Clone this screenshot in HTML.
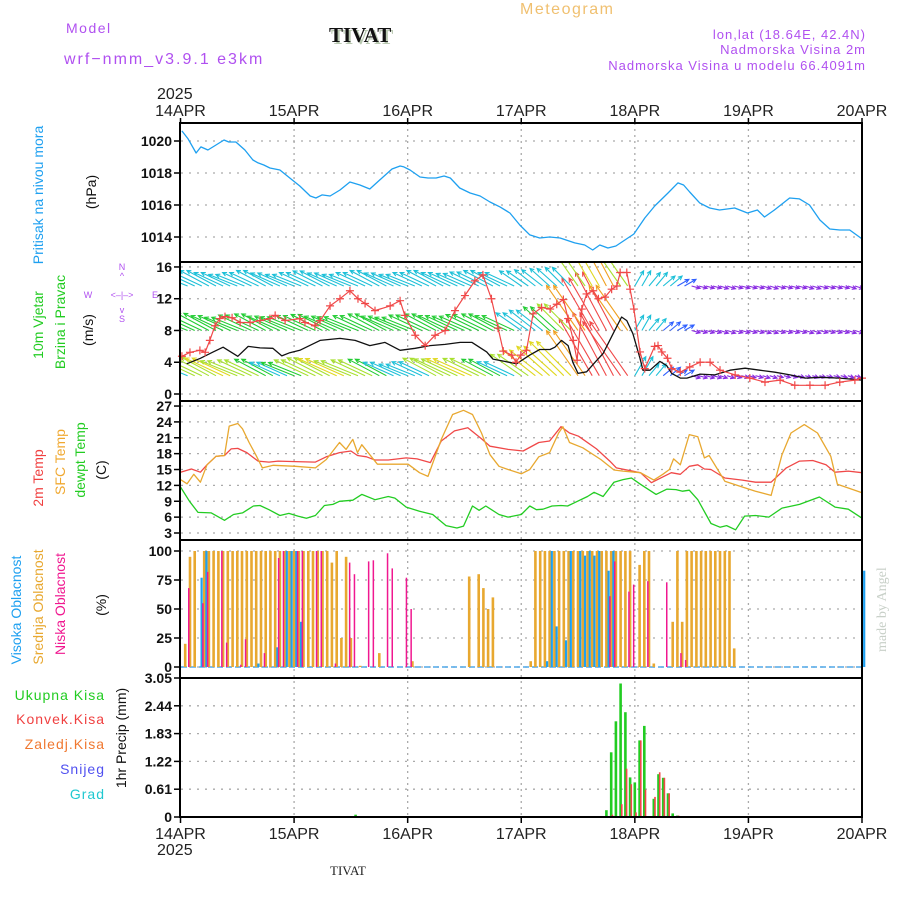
<!DOCTYPE html>
<html><head><meta charset="utf-8"><style>
html,body{margin:0;padding:0;background:#fff}
svg{display:block}
text{font-family:"Liberation Sans",sans-serif}
text.serif{font-family:"Liberation Serif",serif}
</style></head><body>
<svg id="chart" xmlns="http://www.w3.org/2000/svg" width="900" height="900" viewBox="0 0 900 900">
<defs>
<clipPath id="windclip"><rect x="181" y="263" width="680" height="137"/></clipPath>
</defs>
<g>
<text x="66" y="33" fill="#b050f0" font-size="14" letter-spacing="1.5">Model</text>
<text x="64" y="64" fill="#b050f0" font-size="16" letter-spacing="2">wrf−nmm_v3.9.1 e3km</text>
<text class="serif" x="331" y="44" fill="#b8c8b0" font-size="21" font-weight="bold">TIVAT</text>
<text class="serif" x="329" y="42" fill="#111" font-size="21" font-weight="bold">TIVAT</text>
<text x="520" y="14" fill="#f0c070" font-size="16" letter-spacing="1.5">Meteogram</text>
<text x="866" y="39" text-anchor="end" fill="#b050f0" font-size="13" letter-spacing="1">lon,lat (18.64E, 42.4N)</text>
<text x="866" y="54" text-anchor="end" fill="#b050f0" font-size="13" letter-spacing="1">Nadmorska Visina 2m</text>
<text x="866" y="70" text-anchor="end" fill="#b050f0" font-size="13" letter-spacing="1">Nadmorska Visina u modelu 66.4091m</text>
<text x="157" y="99" fill="#222" font-size="16">2025</text>
<text x="157" y="855" fill="#222" font-size="16">2025</text>
<text class="serif" x="330" y="875" fill="#222" font-size="13">TIVAT</text>
<text class="serif" transform="translate(886,652) rotate(-90)" fill="#c8d0c8" font-size="14">made by Angel</text>
</g>
<g font-size="14">
<text transform="translate(43,195) rotate(-90)" text-anchor="middle" fill="#1ea0f0">Pritisak na nivou mora</text>
<text transform="translate(96,192) rotate(-90)" text-anchor="middle" fill="#111">(hPa)</text>
<text transform="translate(43,325) rotate(-90)" text-anchor="middle" fill="#22cc22">10m Vjetar</text>
<text transform="translate(65,322) rotate(-90)" text-anchor="middle" fill="#22cc22">Brzina i Pravac</text>
<text transform="translate(93,330) rotate(-90)" text-anchor="middle" fill="#111">(m/s)</text>
<g fill="#b050f0" font-size="9" text-anchor="middle">
<text x="122" y="270">N</text><text x="122" y="279">^</text><text x="122" y="322">S</text><text x="122" y="313">v</text>
<text x="88" y="298">W</text><text x="155" y="298">E</text>
<text x="122" y="298">&lt;–|–&gt;</text>
</g>
<text transform="translate(43,478) rotate(-90)" text-anchor="middle" fill="#f04040">2m Temp</text>
<text transform="translate(65,462) rotate(-90)" text-anchor="middle" fill="#f0a830">SFC Temp</text>
<text transform="translate(85,460) rotate(-90)" text-anchor="middle" fill="#22cc22">dewpt Temp</text>
<text transform="translate(106,470) rotate(-90)" text-anchor="middle" fill="#111">(C)</text>
<text transform="translate(21,610) rotate(-90)" text-anchor="middle" fill="#1ea0f0">Visoka Oblacnost</text>
<text transform="translate(43,607) rotate(-90)" text-anchor="middle" fill="#e8a830">Srednja Oblacnost</text>
<text transform="translate(65,604) rotate(-90)" text-anchor="middle" fill="#f01890">Niska Oblacnost</text>
<text transform="translate(106,605) rotate(-90)" text-anchor="middle" fill="#111">(%)</text>
<text transform="translate(126,738) rotate(-90)" text-anchor="middle" fill="#111">1hr Precip (mm)</text>
<text x="105" y="700" text-anchor="end" fill="#22cc22" letter-spacing="1">Ukupna  Kisa</text>
<text x="105" y="724" text-anchor="end" fill="#f04040" letter-spacing="1">Konvek.Kisa</text>
<text x="105" y="749" text-anchor="end" fill="#f07830" letter-spacing="1">Zaledj.Kisa</text>
<text x="105" y="774" text-anchor="end" fill="#5050f0" letter-spacing="1">Snijeg</text>
<text x="105" y="799" text-anchor="end" fill="#20c8d0" letter-spacing="1">Grad</text>
</g>
<g id="grid"></g>
<g id="marks"></g>
<g id="frames"></g>
</svg>
<script>
// ---- data ----
const dayLabels = ["14APR","15APR","16APR","17APR","18APR","19APR","20APR"];
const pressTicks = [1014,1016,1018,1020];
const windTicks = [0,4,8,12,16];
const tempTicks = [3,6,9,12,15,18,21,24,27];
const cloudTicks = [0,25,50,75,100];
const precipTicks = ["0","0.61","1.22","1.83","2.44","3.05"];

const pressHours = [0.3,1.6,3.3,4.3,5.8,7.5,9.2,10.2,11.7,13.6,15.3,16.4,17.6,18.9,21,23.1,25.2,27.4,28.6,29.9,31.6,33.7,35.8,37.9,40,42.1,44.7,46.4,47.2,48.5,50.6,52.3,54,55.7,57,59,61.2,63.3,65.4,67.5,69.6,71.7,73.8,75.9,78,80.2,83.3,85.4,87.1,88.6,90.3,92,93.9,95.8,98.1,100.2,103,105.1,106.3,107.6,109.7,111.8,113.9,117.1,119.8,121.9,123.4,125.5,128.7,130.8,132.9,135.1,137.2,139.3,141.4,144];
const pressVals = [1020.63,1020.13,1019.25,1019.63,1019.44,1019.75,1020.06,1019.94,1019.94,1019.44,1018.81,1018.63,1018.5,1018.31,1018.19,1017.69,1017.19,1016.56,1016.44,1016.63,1016.56,1016.94,1017.44,1017.25,1017.0,1017.56,1018.25,1018.44,1018.38,1018.19,1017.75,1017.69,1017.69,1017.81,1017.69,1017.06,1016.75,1016.56,1016.19,1015.88,1015.5,1014.75,1014.13,1013.94,1014.0,1013.94,1013.63,1013.5,1013.19,1013.5,1013.31,1013.44,1013.81,1014.19,1015.19,1015.94,1016.75,1017.38,1017.25,1016.81,1016.13,1015.81,1015.69,1015.81,1015.5,1015.69,1015.25,1015.69,1016.44,1016.38,1016.0,1015.06,1014.5,1014.44,1014.44,1013.88];

const speedHours = [1.3,4.2,6.9,9.0,12.1,14.3,16.8,19.5,21.4,23.1,25.2,29.5,33.7,36.9,40.0,43.2,46.4,49.6,52.7,55.9,59.1,61.6,64.7,66.0,68.5,71.0,73.8,75.9,78.1,79.1,80.5,81.9,82.9,84.0,85.8,87.6,89.3,91.4,93.2,94.3,95.6,97.1,97.7,99.2,101.3,102.7,103.8,105.6,107.0,109.8,112.9,116.1,119.3,122.4,125.6,128.8,132.0,135.1,139.3,144];
const speedVals = [3.8,4.5,5.3,5.9,4.75,6.0,5.8,5.75,4.8,5.2,5.5,6.75,7.0,6.75,6.1,6.5,5.5,5.75,6.1,6.25,6.5,6.5,5.3,4.4,4.1,3.8,4.9,5.6,5.6,5.9,6.75,6.1,4.0,2.6,2.8,4.0,5.1,7.6,9.7,9.25,7.6,4.5,3.0,3.0,4.1,3.6,2.6,2.0,2.0,2.5,2.4,3.0,3.25,3.0,2.75,2.4,2.0,2.1,2.0,1.75];

const gustHours = [0.3,2.0,4.1,5.2,6.2,7.3,8.3,9.4,10.9,12.6,14.7,16.8,18.9,20.0,22.1,25.2,26.3,28.4,29.5,31.6,33.7,35.8,37.5,39.0,41.1,44.3,46.4,47.4,49.6,51.7,53.8,55.9,58.0,60.1,62.2,63.9,65.7,67.1,68.2,70.0,70.9,71.9,73.1,74.5,76.3,78.1,79.5,80.9,81.9,83.0,83.8,84.8,85.8,87.2,88.3,89.7,91.1,92.2,92.9,94.3,95.0,95.8,97.1,98.1,100.2,100.9,101.7,102.9,103.8,105.6,107.6,109.8,111.9,114.0,117.2,120.3,123.5,126.7,129.8,133.0,136.2,139.3,142.5,144];
const gustVals = [4.75,5.25,5.5,5.25,6.75,8.6,9.5,9.75,9.6,9.0,9.0,9.25,9.5,9.9,9.25,9.5,9.0,8.6,9.25,11.1,12,13,12,11.4,10.5,11.1,11.75,9.9,7.4,6.1,7.4,8.0,10.5,12.4,14.25,15.0,12.0,8.3,5.4,4.9,4.0,4.9,5.5,10.1,10.9,10.7,11.3,11.9,9.5,6.75,4.25,10.7,12.6,13.0,12.0,12.2,13.2,13.6,15.3,15.3,13.2,10.7,5.3,3.2,6.0,6.1,5.3,4.5,3.2,2.75,3.4,4.0,4.0,3.0,2.4,2.0,1.5,1.75,1.1,1.1,1.1,1.5,1.75,2.0];

// wind arrows, every 3 hours (hours 0..144)
const arrowHours = [0,3,6,9,12,15,18,21,24,27,30,33,36,39,42,45,48,51,54,57,60,63,66,69,72,75,78,81,84,87,90,93,96,99,102,105,108,111,114,117,120,123,126,129,132,135,138,141,144];
const arrowDir = [158,155,152,155,158,155,152,156,158,155,153,156,158,155,152,156,158,155,152,155,156,154,152,155,145,142,138,135,125,120,118,125,60,50,40,30,-15,-15,-18,-15,-15,-18,-15,-15,-18,-15,-15,-18,-15];
const windLow = [30,34,36,38,36,34,32,30,32,34,36,38,36,34,32,30,28,30,34,36,38,36,32,30,34,38,40,44,50,60,65,60,20,14,12,10,8,8,7,7,7,7,6,6,6,6,6,6,6];
const windMid = [32,32,33,32,32,33,32,32,33,32,32,32,33,32,32,32,32,33,32,32,32,33,32,32,28,30,32,34,50,55,60,50,16,14,12,10,8,8,8,8,8,8,8,8,8,8,8,8,8];
const windHigh = [28,29,30,29,28,29,30,29,28,29,30,29,28,29,30,29,28,29,30,29,28,29,30,29,24,24,24,24,35,40,45,35,16,16,14,12,8,8,8,8,8,8,8,8,8,8,8,8,8];

const tempHours = [0,2.3,4.2,5.6,7.5,9.3,10.7,12.1,14,16.4,18.7,20.6,24.3,28.5,30.8,33.6,36,37.4,39.3,41.1,43.9,47.7,50,52.8,55.1,57.9,60.7,63.6,65.4,69.2,72.4,75.7,78,80.4,82.2,84.1,87.9,90.7,92.1,97.2,99.5,101.9,103.7,105.6,107.5,109.3,110.7,112.1,115,118.7,121.5,124.8,128,130.8,133.6,136.4,138.3,141.1,144];
const tempVals = [14.5,15.1,14.5,15.9,17.5,17.65,18.9,19.0,18.2,16.6,16.4,16.6,16.5,16.4,17.4,18.2,18.5,17.65,17.4,16.8,16.8,17.2,17.0,16.3,20.4,22.3,22.9,20.8,19.4,18.8,18.5,20.1,20.4,23.1,21.9,21.3,18.9,16.6,15.3,14.4,12.5,13.6,14.4,14.1,15.6,15.9,15.1,15.0,13.4,13.0,12.6,12.6,15.3,16.6,16.7,15.9,14.5,14.7,14.4];
const sfcHours = [0,1.4,2.8,4.2,5.6,7.5,9.3,10.3,12.1,13.1,14.5,15.9,17.3,19.6,24.3,28.5,30.8,33.6,35,36.4,37.4,38.3,41.6,48.1,50.5,52.3,55.1,57.5,59.8,61.7,63.6,65.4,67.3,69.2,72,73.8,75.7,78,79.9,80.8,82.2,85,88.8,91.6,93.5,97.2,100,101.9,103.3,104.2,105.6,107.5,109.3,110.7,111.7,115,118.7,121.5,124.8,127.1,129,131.8,134.6,137.4,138.8,141.1,144];
const sfcVals = [13.1,12.3,14.1,12.6,15.9,17.5,17.65,23.2,23.7,22.7,20.1,17.8,15.3,15.8,15.6,15.3,16.9,20.1,18.8,20.7,18.2,19.7,16.0,16.0,14.4,13.7,20.7,25.4,26.2,25.4,21.9,17.8,15.6,15.0,14.2,15.0,17.4,18.2,21.9,23.1,20.1,19.1,16.9,14.9,14.7,14.4,13.0,14.1,15.0,17.0,15.9,21.6,21.2,17.2,17.65,12.8,11.7,10.9,10.1,17.8,21.9,23.5,21.9,17.5,12.2,11.5,10.6];
const dewHours = [0,1.9,3.7,6.5,9.3,11.2,13.1,15.4,16.8,18.7,21,22.9,24.8,26.6,28.5,30.4,32.2,33.6,36.4,38.3,41.1,43.9,45.3,47.7,50.5,53.3,56.1,58.4,59.8,61.7,63.1,64.5,67.3,69.2,72,73.8,75.2,76.6,78.5,80.4,81.8,83.2,86,87.4,89.3,91.6,93.5,95.3,97.2,100.5,102.8,104.7,106.1,107.5,109.3,112.1,114,115.4,117.3,119.2,121.5,124.3,127.1,130.8,135,138.3,141.1,144];
const dewVals = [11.7,9.0,6.9,6.8,5.4,6.5,6.8,8.1,8.2,7.4,6.3,6.7,6.2,5.8,6.3,8.2,8.4,9.0,9.2,10.3,9.3,9.9,9.6,7.9,7.1,6.5,4.4,3.95,4.3,8.1,7.3,8.1,6.5,6.0,6.5,8.1,7.4,7.5,8.1,8.2,8.1,8.7,9.9,10.7,9.9,12.6,13.1,13.4,12.2,10.3,11.3,11.2,10.9,11.1,9.3,4.8,4.1,4.4,3.6,6.2,6.3,6.0,7.7,8.4,9.8,7.9,7.5,5.8];

const midHours = [1,2,3,5,6,7,8,9,10,11,12,13,14,15,16,17,18,19,20,21,22,23,24,25,26,27,28,29,30,31,32,33,34,35,36,38,42,49,61,63,64,65,66,74,75,76,77,78,79,80,81,82,83,84,85,86,87,88,89,90,91,92,93,94,95,97,98,99,100,104,105,106,107,108,109,110,111,112,113,114,115,116,117];
const midVals = [20,95,100,100,100,100,100,100,100,100,100,100,100,100,100,100,100,100,100,100,100,100,100,100,100,100,100,100,100,100,90,100,25,95,25,1,12,5,78,80,68,50,60,5,100,100,100,100,100,100,100,100,100,100,100,100,100,100,100,100,100,100,100,100,100,88,100,100,3,39,100,39,100,100,100,100,100,100,100,100,100,100,16];
const lowHours = [2,5,6,9,10,13,14,18,21,22,25,26,29,30,33,36,37,40,41,44,45,48,49,91,92,95,96,99,103,106,107];
const lowVals = [68,55,82,100,21,2,24,12,94,100,100,100,100,100,3,90,80,91,92,98,85,77,50,61,91,65,71,74,73,12,6];
const highHours = [4,5,16,20,22,23,24,25,77,78,79,81,82,84,85,86,87,88,90,91,144];
const highVals = [77,100,3,17,100,100,100,39,5,100,35,23,100,100,96,100,96,100,83,100,83];

const rainHours = [37,90,91,92,93,94,95,96,97,98,100,101,102,103,104,105];
const rainVals = [0.05,0.15,1.42,2.1,2.93,2.3,0.87,0.76,1.68,2.0,0.4,0.94,0.86,0.52,0.08,0.03];
const convHours = [91,93,94,95,96,97,98,100,101,102,103,105];
const convVals = [0.05,0.28,1.06,0.72,0.1,1.68,0.6,0.44,0.98,0.86,0.52,0.03];

// ---- scales ----
const X0 = 180.5, X1 = 862;
const xH = h => X0 + h * (X1 - X0) / 144;
const yP = p => 141 + (1020 - p) * 16;
const yW = v => 394 - v * 7.94;
const yT = t => 533 - (t - 3) * 5.29;
const yC = c => 667 - c * 1.16;
const yR = r => 817 - r * (139 / 3.05);

const NS = "http://www.w3.org/2000/svg";
function mk(tag, parent, attrs) {
  const e = document.createElementNS(NS, tag);
  for (const k in attrs) e.setAttribute(k, attrs[k]);
  parent.appendChild(e);
  return e;
}
const grid = document.getElementById("grid");
const marks = document.getElementById("marks");
const frames = document.getElementById("frames");
const panels = [[123,262],[262,401],[401,540],[540,678],[678,817]];

dayLabels.forEach((d, i) => {
  const x = xH(i * 24);
  if (i > 0 && i < 6) {
    const g = mk("line", grid, {x1:x, x2:x, y1:123, y2:817, stroke:"#aaa", "stroke-width":1.3, "stroke-dasharray":"2,4"});
    
    
  }
  const t1 = mk("text", grid, {x:x, y:116, "text-anchor":"middle", fill:"#222", "font-size":16});
  t1.textContent = d;
  
  
  const t2 = mk("text", grid, {x:x, y:839, "text-anchor":"middle", fill:"#222", "font-size":16});
  t2.textContent = d;
  
  
  const tk = mk("line", grid, {x1:x, x2:x, y1:118, y2:123, stroke:"#000", "stroke-width":1.5});
  
  
  const tk2 = mk("line", grid, {x1:x, x2:x, y1:817, y2:823, stroke:"#000", "stroke-width":1.5});
  
  
});

function yTicks(vals, labels, yf, name) {
  vals.forEach((v, i) => {
    const y = yf(v);
    const g = mk("line", grid, {x1:181, x2:861, y1:y, y2:y, stroke:"#aaa", "stroke-width":1.3, "stroke-dasharray":"2,6"});
    
    
    const tk = mk("line", grid, {x1:174, x2:180, y1:y, y2:y, stroke:"#000", "stroke-width":1.5});
    
    
    const t = mk("text", grid, {x:172, y:y + 5, "text-anchor":"end", fill:"#111", "font-size":14, "font-weight":"bold"});
    t.textContent = labels[i];
    
    
  });
}
yTicks(pressTicks, pressTicks.map(String), yP, "pressure");
yTicks(windTicks, windTicks.map(String), yW, "wind");
yTicks(tempTicks, tempTicks.map(String), yT, "temp");
yTicks(cloudTicks, cloudTicks.map(String), yC, "cloud");
yTicks(precipTicks.map(Number), precipTicks, yR, "precip");

function line(hours, vals, yf, color, width, name) {
  const d = hours.map((h, i) => (i ? "L" : "M") + xH(h).toFixed(1) + "," + yf(vals[i]).toFixed(1)).join("");
  const p = mk("path", marks, {d:d, fill:"none", stroke:color, "stroke-width":width, "stroke-linejoin":"round"});
  
  
  return p;
}
line(pressHours, pressVals, yP, "#1ea0f0", 1.3, "pressure-line");

const wg = mk("g", marks, {"clip-path":"url(#windclip)"});


function arrowColor(len) {
  if (len < 9) return "#8a2be2";
  if (len < 14) return "#3060ff";
  if (len < 31) return "#1ec0d8";
  if (len < 34) return "#22cc33";
  if (len < 38) return "#a8e030";
  if (len < 45) return "#e0d820";
  if (len < 55) return "#f0a020";
  return "#f04848";
}
[[windLow, 2.3, "low"], [windMid, 8.0, "mid"], [windHigh, 13.6, "high"]].forEach(([arr, base, nm]) => {
  arrowHours.forEach((h0, i) => {
    for (let k = 0; k < 2; k++) {
      const h = h0 + k * 1.5;
      if (h > 144) break;
      const len = arr[i] * 1.1;
      const a = arrowDir[i] * Math.PI / 180;
      const x1 = xH(h), y1 = yW(base);
      const x2 = x1 + len * Math.cos(a), y2 = y1 - len * Math.sin(a);
      const c = arrowColor(arr[i]);
      const hl = 4.5;
      const a1 = a + Math.PI - 0.45, a2 = a + Math.PI + 0.45;
      const d = `M${x1.toFixed(1)},${y1.toFixed(1)}L${x2.toFixed(1)},${y2.toFixed(1)}M${(x2 + hl * Math.cos(a1)).toFixed(1)},${(y2 - hl * Math.sin(a1)).toFixed(1)}L${x2.toFixed(1)},${y2.toFixed(1)}L${(x2 + hl * Math.cos(a2)).toFixed(1)},${(y2 - hl * Math.sin(a2)).toFixed(1)}`;
      const p = mk("path", wg, {d:d, fill:"none", stroke:c, "stroke-width":1.1});
      
      
    }
  });
});
line(speedHours, speedVals, yW, "#111", 1.3, "wind-speed-line");
line(gustHours, gustVals, yW, "#f04848", 1.2, "wind-gust-line");
gustHours.forEach((h, i) => {
  const x = xH(h), y = yW(gustVals[i]);
  const p = mk("path", marks, {d:`M${x-4},${y}L${x+4},${y}M${x},${y-4}L${x},${y+4}`, stroke:"#f04848", "stroke-width":1.2});
  
  
});

line(tempHours, tempVals, yT, "#f04848", 1.3, "temp-2m-line");
line(sfcHours, sfcVals, yT, "#e8a830", 1.3, "temp-sfc-line");
line(dewHours, dewVals, yT, "#22cc22", 1.3, "dewpoint-line");

const base = mk("line", marks, {x1:181, x2:861, y1:667, y2:667, stroke:"#50a8e8", "stroke-width":1.5, "stroke-dasharray":"6,3"});


function bars(hours, vals, yf, y0, color, w, off, name) {
  hours.forEach((h, i) => {
    const x = xH(h) + off, y = yf(vals[i]);
    const r = mk("rect", marks, {x:(x - w / 2).toFixed(1), y:y.toFixed(1), width:w, height:Math.max(0, y0 - y).toFixed(1), fill:color});
    
    
  });
}
bars(midHours, midVals, yC, 667, "#e8a830", 2.6, 0, "mid-cloud-bar");
bars(highHours, highVals, yC, 667, "#1ea0f0", 2.2, 2.2, "high-cloud-bar");
bars(lowHours, lowVals, yC, 667, "#f01890", 1.5, -1.2, "low-cloud-bar");

bars(rainHours, rainVals, yR, 817, "#22cc22", 2.6, 0, "total-rain-bar");
bars(convHours, convVals, yR, 817, "#f04848", 1.6, 1.2, "convective-rain-bar");

panels.forEach(([a, b]) => {
  const r = mk("rect", frames, {x:180, y:a, width:682, height:b - a, fill:"none", stroke:"#000", "stroke-width":2});
  
  
});
</script>
</body></html>
